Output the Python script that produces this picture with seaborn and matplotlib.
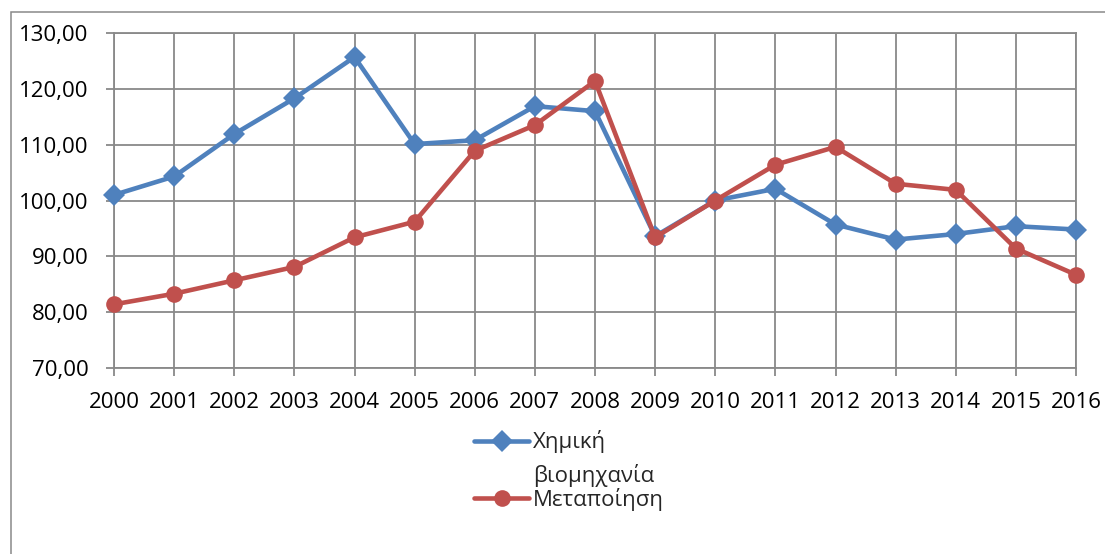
import matplotlib
matplotlib.use("Agg")
import matplotlib.pyplot as plt
from matplotlib.lines import Line2D
from matplotlib.patches import Rectangle
from matplotlib.ticker import FuncFormatter, MultipleLocator
import seaborn as sns
import pandas as pd

years = list(range(2000, 2017))
chem_label = "Χημική\nβιομηχανία"
manu_label = "Μεταποίηση"
chem = [101.0, 104.3, 111.9, 118.3, 125.7, 110.1, 110.8, 116.9, 116.0,
        93.6, 100.0, 102.1, 95.7, 93.0, 94.0, 95.4, 94.8]
manu = [81.4, 83.3, 85.7, 88.1, 93.4, 96.2, 108.9, 113.5, 121.4,
        93.4, 100.0, 106.4, 109.6, 103.0, 101.9, 91.4, 86.7]

BLUE = "#4F81BD"
RED = "#C0504D"
GRID = "#898989"
FS = 16
MS_D = 11
MS_O = 12

df = pd.DataFrame({
    "year": years * 2,
    "value": chem + manu,
    "series": [chem_label] * len(years) + [manu_label] * len(years),
})

sns.set_style("white")
plt.rcParams["font.family"] = ["Open Sans", "DejaVu Sans"]

fig = plt.figure(figsize=(11.05, 5.54), dpi=100)
ax = fig.add_axes([114 / 1105, 1 - 368 / 554, (1076 - 114) / 1105, (368 - 33) / 554])

sns.lineplot(data=df, x="year", y="value", hue="series", style="series",
             palette={chem_label: BLUE, manu_label: RED},
             markers={chem_label: "D", manu_label: "o"}, dashes=False,
             linewidth=3.3, markersize=MS_D, markeredgewidth=0, legend=False,
             ax=ax, zorder=3)
for ln in ax.get_lines():
    if ln.get_marker() == "o":
        ln.set_markersize(MS_O)
    ln.set_solid_joinstyle("round")
    ln.set_solid_capstyle("round")
    ln.set_clip_on(False)

ax.set_xlim(2000, 2016)
ax.set_ylim(70, 130)
ax.set_xticks(years)
ax.set_xticklabels([str(y) for y in years])
ax.yaxis.set_major_locator(MultipleLocator(10))
ax.yaxis.set_major_formatter(FuncFormatter(lambda v, p: f"{v:.2f}".replace(".", ",")))
ax.set_xlabel("")
ax.set_ylabel("")

ax.grid(True, color=GRID, linewidth=1.3, zorder=0)
ax.set_axisbelow(True)
for s in ax.spines.values():
    s.set_color(GRID)
    s.set_linewidth(1.3)

ax.tick_params(axis="both", direction="out", length=6, width=1.3, color=GRID,
               labelsize=FS, labelcolor="black")
ax.tick_params(axis="y", pad=12.5, left=True)
ax.tick_params(axis="x", pad=11.5, bottom=True)

# outer chart frame
fig.add_artist(Rectangle((11 / 1105, -0.2), 1.2, 1 - 12 / 554 + 0.2,
                         transform=fig.transFigure, fill=False,
                         edgecolor=GRID, linewidth=1.1))


def fx(px):
    return px / 1105


def fy(py):
    return 1 - py / 554


for ypix, col, mk, ms in [(441, BLUE, "D", MS_D), (498, RED, "o", MS_O)]:
    fig.add_artist(Line2D([fx(474), fx(529)], [fy(ypix), fy(ypix)],
                          transform=fig.transFigure, color=col, linewidth=3.3,
                          solid_capstyle="round"))
    fig.add_artist(Line2D([fx(501.5)], [fy(ypix)], transform=fig.transFigure,
                          color=col, marker=mk, markersize=ms, markeredgewidth=0,
                          linestyle="none"))

chem_lines = chem_label.split("\n")
fig.text(fx(533), fy(448), chem_lines[0], fontsize=FS, va="baseline", ha="left")
fig.text(fx(533), fy(482), chem_lines[1], fontsize=FS, va="baseline", ha="left")
fig.text(fx(533), fy(506), manu_label, fontsize=FS, va="baseline", ha="left")

fig.savefig("out.png", dpi=100)
